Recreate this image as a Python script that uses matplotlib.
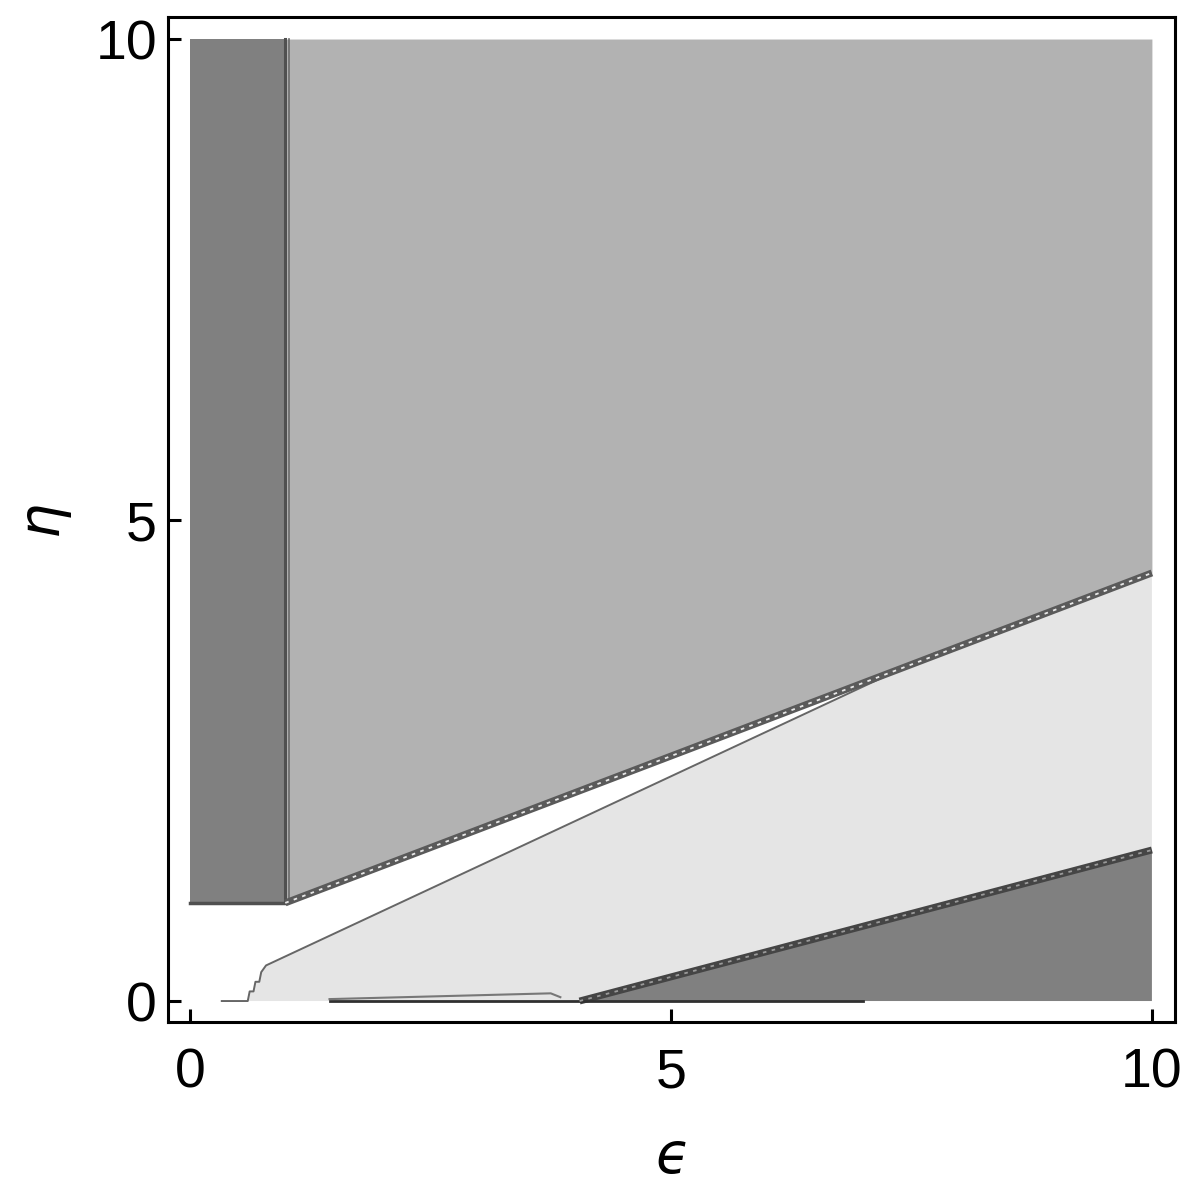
import matplotlib
matplotlib.use("Agg")
import matplotlib.pyplot as plt
import numpy as np

# ---- data (region boundaries) ----
tick_values = [0, 5, 10]
tick_labels = ["0", "5", "10"]

left_block_x = [0.0, 0.99]
left_block_y = [1.02, 10.0]

upper_x = [0.99, 10.0]
upper_y = [1.02, 4.45]

inner_x = [0.33, 0.60, 0.62, 0.66, 0.68, 0.72, 0.74, 0.79, 7.75]
inner_y = [0.0, 0.0, 0.10, 0.10, 0.20, 0.20, 0.30, 0.37, 3.62]

lower_x = [4.05, 10.0]
lower_y = [0.0, 1.57]

base_dark_x = [1.45, 7.0]
sliver_x = [1.45, 3.75, 3.85]
sliver_y = [0.02, 0.08, 0.04]

c_dark = "#808080"
c_mid = "#b2b2b2"
c_light = "#e5e5e5"
c_edge = "#5a5a5a"

fig = plt.figure(figsize=(11.94, 11.93), dpi=100)
ax = fig.add_axes([168/1194, 1-1022/1193, (1175-168)/1194, (1022-17)/1193])
ax.set_xlim(-0.229, 10.24)
ax.set_ylim(-0.218, 10.229)

# medium gray region above upper boundary
ux = np.array(upper_x); uy = np.array(upper_y)
ax.fill_between(ux, uy, 10.0, color=c_mid, lw=0, zorder=1)

# light gray region
poly_x = inner_x[1:] + [10.0, 10.0] + lower_x[::-1]
poly_y = inner_y[1:] + [upper_y[1], lower_y[1]] + lower_y[::-1]
ax.fill(poly_x, poly_y, color=c_light, lw=0, zorder=1)

# dark gray bottom-right
ax.fill(lower_x + [10.0], lower_y + [0.0], color=c_dark, lw=0, zorder=1)

# dark gray left block
ax.fill([left_block_x[0], left_block_x[1], left_block_x[1], left_block_x[0]],
        [left_block_y[0], left_block_y[0], left_block_y[1], left_block_y[1]],
        color=c_dark, lw=0, zorder=1)

# block edges
ax.plot([left_block_x[1]]*2, left_block_y, color="#505050", lw=2.2, zorder=3)
ax.plot([left_block_x[1]+0.04]*2, left_block_y, color="#6a6a6a", lw=1.2, zorder=3)
ax.plot(left_block_x, [left_block_y[0]]*2, color="#505050", lw=2.5, zorder=3)

# jagged boundaries
ax.plot(upper_x, upper_y, color=c_edge, lw=5, zorder=3, solid_capstyle="butt")
ax.plot(upper_x, upper_y, color="#e8e8e8", lw=1.3, zorder=4, dashes=(2, 3))
ax.plot(lower_x, lower_y, color="#454545", lw=5, zorder=3, solid_capstyle="butt")
ax.plot(lower_x, lower_y, color="#9a9a9a", lw=1.3, zorder=4, dashes=(2, 3))

# inner thin line
ax.plot(inner_x, inner_y, color="#666666", lw=1.4, zorder=2)

# bottom details
ax.plot(base_dark_x, [0.0, 0.0], color="#303030", lw=2.0, zorder=3)
ax.plot(sliver_x, sliver_y, color="#777777", lw=1.5, zorder=3)

# axes styling
for s in ax.spines.values():
    s.set_linewidth(2.2)
ax.set_xticks(tick_values)
ax.set_yticks(tick_values)
ax.set_xticklabels(tick_labels, fontsize=40, family="Liberation Sans")
ax.set_yticklabels(tick_labels, fontsize=40, family="Liberation Sans")
ax.tick_params(direction="in", length=9.5, width=2.2, top=False, right=False)
ax.tick_params(axis="x", pad=18)
ax.tick_params(axis="y", pad=8)

fig.text(672/1194, 1-1158/1193, "ϵ", fontsize=40, style="italic",
         family="DejaVu Sans", ha="center", va="center")
fig.text(42/1194, 1-517/1193, "η", fontsize=40, style="italic", rotation=90,
         family="DejaVu Sans", ha="center", va="center")

fig.savefig("out.png", dpi=100)
